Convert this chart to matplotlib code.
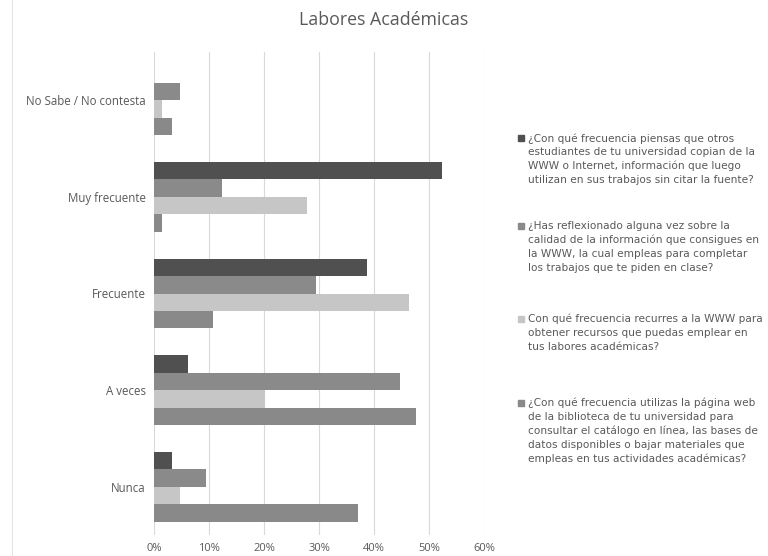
import matplotlib.pyplot as plt
import numpy as np
from matplotlib.lines import Line2D

plt.rcParams['font.family'] = ['Open Sans', 'DejaVu Sans']

categories = ["Nunca", "A veces", "Frecuente", "Muy frecuente", "No Sabe / No contesta"]
s1 = [3.2, 6.2, 38.7, 52.3, 0.0]
s2 = [9.4, 44.7, 29.4, 12.4, 4.8]
s3 = [4.8, 20.2, 46.3, 27.8, 1.5]
s4 = [37.1, 47.7, 10.8, 1.5, 3.2]
series = [s1, s2, s3, s4]
ticks = [0, 10, 20, 30, 40, 50, 60]
legend_labels = [
    "¿Con qué frecuencia piensas que otros\nestudiantes de tu universidad copian de la\nWWW o Internet, información que luego\nutilizan en sus trabajos sin citar la fuente?",
    "¿Has reflexionado alguna vez sobre la\ncalidad de la información que consigues en\nla WWW, la cual empleas para completar\nlos trabajos que te piden en clase?",
    "Con qué frecuencia recurres a la WWW para\nobtener recursos que puedas emplear en\ntus labores académicas?",
    "¿Con qué frecuencia utilizas la página web\nde la biblioteca de tu universidad para\nconsultar el catálogo en línea, las bases de\ndatos disponibles o bajar materiales que\nempleas en tus actividades académicas?",
]
colors = ["#505050", "#8a8a8a", "#c6c6c6", "#898989"]
text_color = "#595959"

fig = plt.figure(figsize=(7.68, 5.56), dpi=100)
ax = fig.add_axes([154/768, 1 - 535/556, 330/768, 483/556])

y = np.arange(len(categories))
h = 0.181
offsets = [1.5 * h, 0.5 * h, -0.5 * h, -1.5 * h]
for vals, off, c in zip(series, offsets, colors):
    ax.barh(y + off, vals, height=h, color=c, zorder=2)

ax.set_xlim(0, 60)
ax.set_ylim(-0.5, len(categories) - 0.5)
ax.set_xticks(ticks)
ax.set_xticklabels([f"{t}%" for t in ticks], color=text_color, fontsize=8)
ax.set_yticks(y)
ax.set_yticklabels(categories, color=text_color, fontsize=8.3)
ax.tick_params(length=0, pad=6)
ax.xaxis.grid(True, color="#d9d9d9", linewidth=0.8, zorder=0)
for s in ax.spines.values():
    s.set_visible(False)

fig.text(0.5, 1 - 20/556, "Labores Académicas", ha="center", va="center",
         fontsize=12.8, color=text_color)

# legend drawn by hand to keep the spacing of the original
legend_y = [138, 226, 319, 403]
for lab, c, ly in zip(legend_labels, colors, legend_y):
    fig.patches.append(plt.Rectangle((518/768, 1 - (ly + 3)/556), 6/768, 6/556,
                                     transform=fig.transFigure, color=c))
    fig.text(528/768, 1 - (ly - 5)/556, lab, ha="left", va="top",
             fontsize=7.55, color=text_color, linespacing=1.45,
             family=['DejaVu Sans'])

fig.add_artist(Line2D([12/768, 12/768], [0, 1], color="#e6e6e6", lw=0.8))

fig.savefig("out.png", dpi=100, facecolor="white")
